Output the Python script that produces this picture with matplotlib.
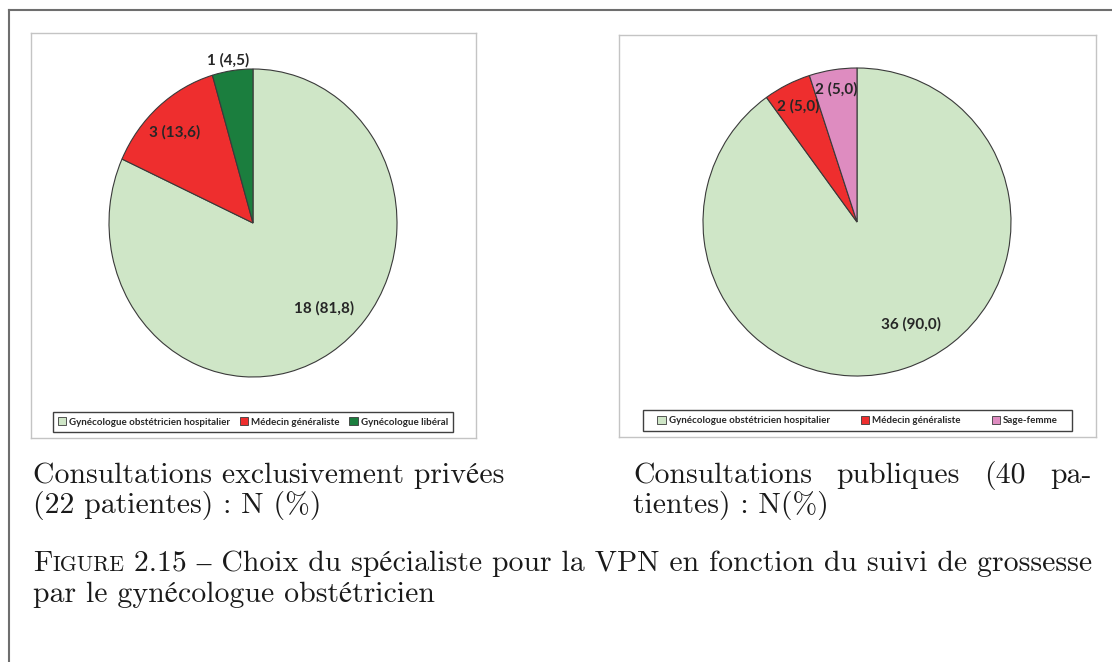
import numpy as np
import matplotlib.pyplot as plt
from matplotlib.patches import Patch, Rectangle
from matplotlib.lines import Line2D

# Données : choix du spécialiste pour la VPN
cat_prive = ['Gynécologue obstétricien hospitalier', 'Médecin généraliste', 'Gynécologue libéral']
n_prive = [18, 3, 1]
pct_prive = [81.8, 13.6, 4.5]
col_prive = ['#cfe6c7', '#ee2e2e', '#1b7e3e']

cat_public = ['Gynécologue obstétricien hospitalier', 'Médecin généraliste', 'Sage-femme']
n_public = [36, 2, 2]
pct_public = [90.0, 5.0, 5.0]
col_public = ['#cfe6c7', '#ee2e2e', '#de8cc0']

W, H = 1112, 662
fig = plt.figure(figsize=(W / 100, H / 100), dpi=100)
renderer = fig.canvas.get_renderer()

serif = ['cmr10', 'STIXGeneral', 'DejaVu Serif']
sans = ['Lato', 'DejaVu Sans']
txt_col = '#1a1a1a'


def fx(x):
    return x / W


def fy(y):
    return 1 - y / H


# cadre extérieur (haut et gauche)
fig.add_artist(Line2D([fx(9), fx(9)], [fy(10), 0], color='#6e6e6e', lw=1.5))
fig.add_artist(Line2D([fx(9), 1], [fy(10), fy(10)], color='#6e6e6e', lw=1.5))


def panel(x0, y0, x1, y1):
    ax = fig.add_axes([fx(x0), fy(y1), fx(x1 - x0), (y1 - y0) / H])
    ax.set_xticks([])
    ax.set_yticks([])
    for s in ax.spines.values():
        s.set_color('#c4c4c4')
        s.set_linewidth(1)
    return ax


def camembert(cx, cy, rx, ry, n, pct, cols, dist, shift):
    ax = fig.add_axes([fx(cx - rx), fy(cy + ry), 2 * rx / W, 2 * ry / H])
    wedges, _ = ax.pie(n, colors=cols, startangle=90, counterclock=False,
                       wedgeprops=dict(edgecolor='#3a3a3a', linewidth=0.8))
    ax.set_aspect('auto')
    ax.set_xlim(-1, 1)
    ax.set_ylim(-1, 1)
    for w, v, p, d, s in zip(wedges, n, pct, dist, shift):
        th = np.radians((w.theta1 + w.theta2) / 2 + s)
        lab = f'{v} ({p:.1f})'.replace('.', ',')
        ax.text(d * np.cos(th), d * np.sin(th), lab, ha='center', va='center',
                fontsize=11, fontweight='bold', family=sans, color='#262626')
    return ax


def legende(x0, y0, x1, y1, cats, cols, espace):
    fig.add_artist(Rectangle((fx(x0), fy(y1)), fx(x1 - x0), (y1 - y0) / H,
                             transform=fig.transFigure, facecolor='white',
                             edgecolor='#404040', lw=1.0))
    handles = [Patch(facecolor=c, edgecolor='#3a3a3a', lw=0.6) for c in cols]
    leg = fig.legend(handles, cats, loc='center', ncol=3, frameon=False,
                     bbox_to_anchor=(fx(x0), fy(y1), fx(x1 - x0), (y1 - y0) / H),
                     borderaxespad=0, handlelength=0.85, handleheight=0.85,
                     handletextpad=0.3, columnspacing=espace, borderpad=0.2,
                     prop=dict(family=sans, weight='bold', size=7))
    for t in leg.get_texts():
        t.set_color('#262626')


panel(31, 33, 476, 438)
panel(619, 35, 1096, 437)

camembert(253, 223, 144, 154, n_prive, pct_prive, col_prive,
          dist=[0.74, 0.80, 1.07], shift=[9, 2, 1])
camembert(857, 222, 154, 154, n_public, pct_public, col_public,
          dist=[0.75, 0.84, 0.87], shift=[10, 0, 0])

legende(53, 412, 453, 432, cat_prive, col_prive, 1.0)
legende(643, 410, 1072, 431, cat_public, col_public, 3.2)


# légendes texte (style LaTeX)
def put(x, y, s, size, ha='left'):
    t = fig.text(fx(x), fy(y), s, fontsize=size, family=serif, color=txt_col,
                 va='baseline', ha=ha)
    return t, t.get_window_extent(renderer)


# taille ajustée sur la largeur de la ligne de la figure
S = 20.0
tmp = [fig.text(0, 0, s, fontsize=z, family=serif) for s, z in
       [('F', S), ('IGURE', S * 0.73), (' 2.15 – Choix du spécialiste pour la VPN en fonction du suivi de grossesse', S)]]
w = sum(t.get_window_extent(renderer).width for t in tmp)
for t in tmp:
    t.remove()
S = S * (1092 - 33) / w

put(33, 483, 'Consultations exclusivement privées', S)
put(33, 513, '(22 patientes) : N (%)', S)

mots = ['Consultations', 'publiques', '(40', 'pa-']
largeurs = []
for m in mots:
    t = fig.text(0, 0, m, fontsize=S, family=serif)
    largeurs.append(t.get_window_extent(renderer).width)
    t.remove()
gap = (1092 - 633 - sum(largeurs)) / (len(mots) - 1)
x = 633
for m, lw in zip(mots, largeurs):
    put(x, 483, m, S)
    x += lw + gap
put(633, 513, 'tientes) : N(%)', S)

_, bb = put(33, 571, 'F', S)
_, bb = put(bb.x1, 571, 'IGURE', S * 0.73)
put(bb.x1, 571, ' 2.15 – Choix du spécialiste pour la VPN en fonction du suivi de grossesse', S)
put(33, 602, 'par le gynécologue obstétricien', S)

fig.savefig('out.png', dpi=100)
